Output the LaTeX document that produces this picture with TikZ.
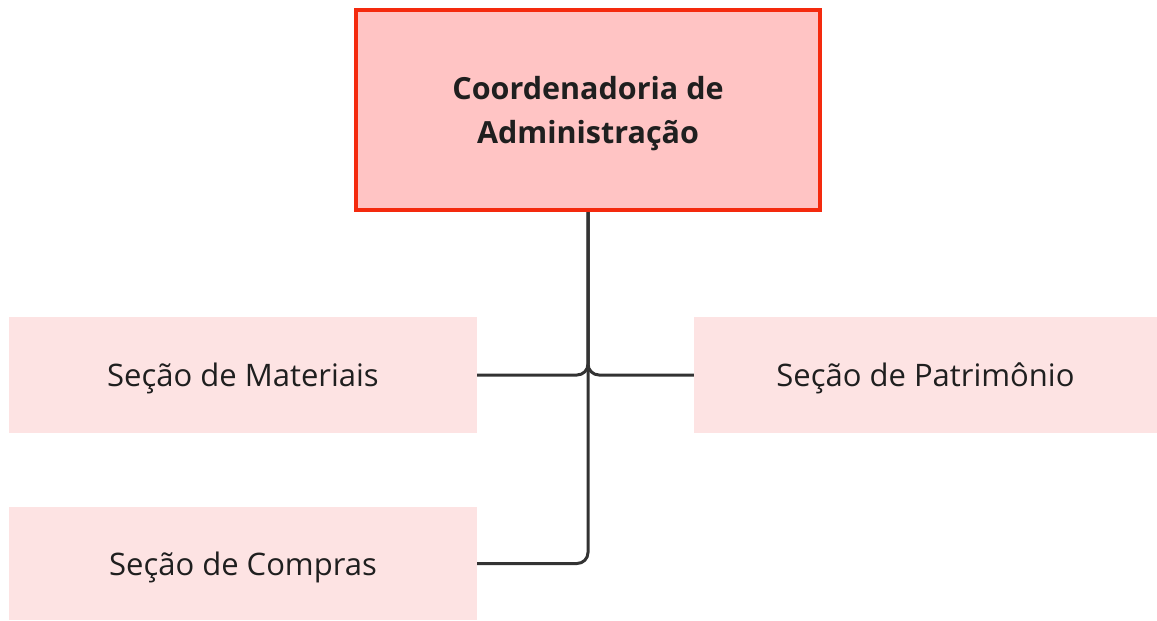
\documentclass[tikz,border=0pt]{standalone}
\usepackage{fontspec}
\setmainfont{Open Sans}
\definecolor{headred}{HTML}{F42A0E}
\definecolor{headfill}{HTML}{FFC4C4}
\definecolor{secfill}{HTML}{FDE3E3}
\definecolor{linkgray}{HTML}{333333}
\definecolor{textdark}{HTML}{1F1F1F}

\begin{document}
\begin{tikzpicture}[x=1pt,y=-1pt,
    headbox/.style={draw=headred,line width=4pt,fill=headfill,minimum width=464pt,
        minimum height=200pt,inner sep=0pt,align=center,text=textdark,text depth=0pt,
        font=\fontsize{30.5}{44}\selectfont\bfseries},
    secbox/.style={fill=secfill,inner sep=0pt,text=textdark,text depth=0pt,
        font=\fontsize{31}{36}\selectfont},
    link/.style={draw=linkgray,line width=3pt,rounded corners=11pt}]
        \useasboundingbox (0,0) rectangle (1157,621);
        \node[headbox] (coord) at (588,110) {Coordenadoria de\\Administração};
        \node[secbox,minimum width=468pt,minimum height=116pt] (mat) at (243,375) {Seção de Materiais};
        \node[secbox,minimum width=463pt,minimum height=116pt] (pat) at (925.5,375) {Seção de Patrimônio};
        \node[secbox,minimum width=468pt,minimum height=113pt] (comp) at (243,563.5) {Seção de Compras};
        \draw[link] (coord.south) |- (mat.east);
        \draw[link] (coord.south) |- (pat.west);
        \draw[link] (coord.south) |- (comp.east);
\end{tikzpicture}
\end{document}
